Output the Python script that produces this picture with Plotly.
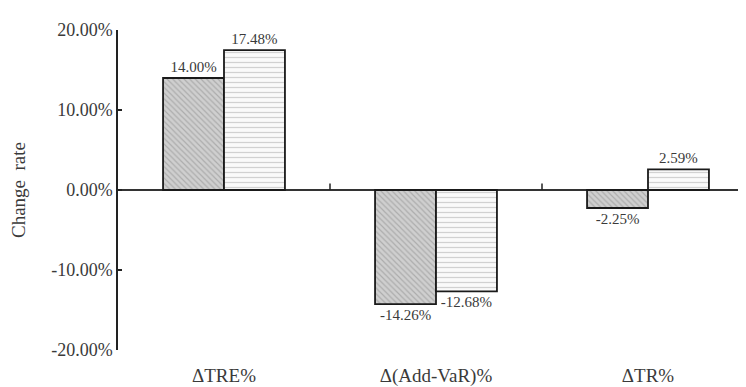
import plotly.graph_objects as go

categories = ["ΔTRE%", "Δ(Add-VaR)%", "ΔTR%"]
series_a = [14.00, -14.26, -2.25]
series_b = [17.48, -12.68, 2.59]
ytick_vals = [20, 10, 0, -10, -20]
ytick_text = ["20.00%", "10.00%", "0.00%", "-10.00%", "-20.00%"]

font_family = "Liberation Serif"
txt_color = "#3a3a3a"

fig = go.Figure()
fig.add_trace(go.Bar(
    x=categories, y=series_a,
    text=[f"{v:.2f}%" for v in series_a], textposition="outside",
    textfont=dict(family=font_family, size=15, color=txt_color),
    marker=dict(color="#c8c8c8", line=dict(color="#1a1a1a", width=1.8),
                pattern=dict(shape="\\", fgcolor="#8a8a8a", bgcolor="#cfcfcf", size=4, solidity=0.3)),
    cliponaxis=False, showlegend=False,
))
fig.add_trace(go.Bar(
    x=categories, y=series_b,
    text=[f"{v:.2f}%" for v in series_b], textposition="outside",
    textfont=dict(family=font_family, size=15, color=txt_color),
    marker=dict(color="#f4f4f4", line=dict(color="#1a1a1a", width=1.8),
                pattern=dict(shape="-", fgcolor="#a8a8a8", bgcolor="#fafafa", size=5, solidity=0.25)),
    cliponaxis=False, showlegend=False,
))

# small tick marks on the zero line between category groups
for xb in [0.5, 1.5]:
    fig.add_shape(type="line", xref="x", yref="y", x0=xb, x1=xb, y0=0, y1=0.8,
                  line=dict(color="#222", width=1.5))

xr = [-0.5, 2.5]
fig.update_layout(
    width=746, height=387,
    margin=dict(l=110, r=0, t=22, b=45),
    paper_bgcolor="white", plot_bgcolor="white",
    barmode="group", bargap=0.425, bargroupgap=0,
    font=dict(family=font_family, size=15, color=txt_color),
    xaxis=dict(range=xr, showline=False, ticks="", showgrid=False, zeroline=False,
               automargin=False, ticklabelstandoff=12,
               tickfont=dict(family=font_family, size=19, color=txt_color)),
    yaxis=dict(range=[-20, 20], tickvals=ytick_vals, ticktext=ytick_text,
               showline=True, linecolor="#222", linewidth=1.5, ticks="inside", ticklen=4,
               tickcolor="#222", tickwidth=1.5, showgrid=False,
               zeroline=True, zerolinecolor="#333", zerolinewidth=1.8,
               automargin=False,
               title=dict(text="Change  rate", standoff=22,
                          font=dict(family=font_family, size=19, color=txt_color)),
               tickfont=dict(family=font_family, size=18, color=txt_color)),
)

fig.write_html("out.html")
